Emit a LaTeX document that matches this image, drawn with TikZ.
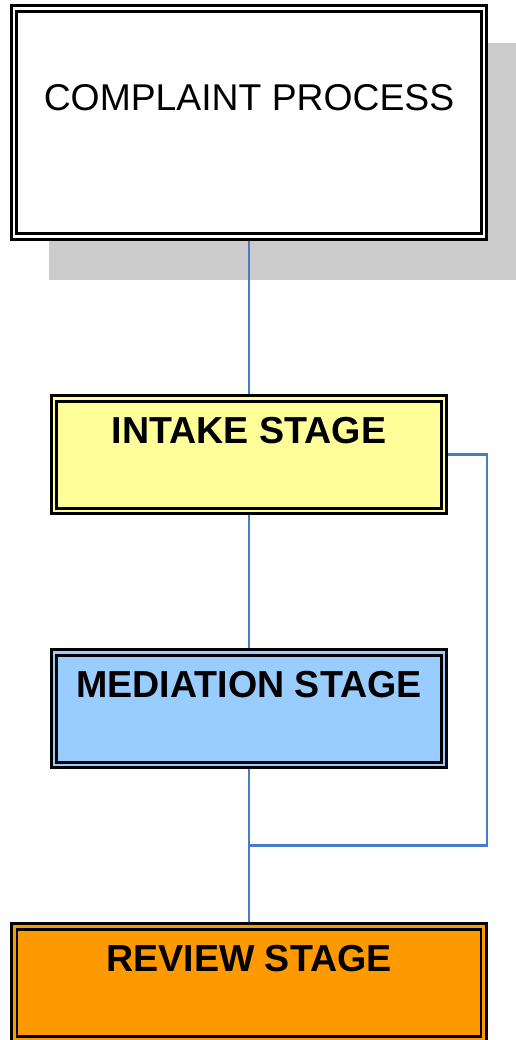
\documentclass[tikz,border=0pt]{standalone}
\usepackage{fontspec}
\setmainfont{Liberation Sans}
\usetikzlibrary{positioning,calc,backgrounds}

\definecolor{intakeyellow}{HTML}{FFFF99}
\definecolor{mediationblue}{HTML}{99CCFF}
\definecolor{revieworange}{HTML}{FF9900}
\definecolor{shadowgray}{HTML}{CCCCCC}
\definecolor{linkblue}{HTML}{4A7BC8}

\begin{document}
\begin{tikzpicture}[
        x=1pt, y=1pt,
        stage/.style={draw, double, line width=2.8pt, double distance=2.8pt, outer sep=0pt, inner sep=0pt,
          align=center, text height=26pt, text depth=49pt, minimum height=112.5pt,
          font=\fontsize{37.6}{44}\selectfont\bfseries},
        link/.style={draw=linkblue, line width=2.6pt}
      ]
      \useasboundingbox (0,0) rectangle (515,-1040);

      \node (CP) [stage, fill=white, double=white, minimum width=470pt, minimum height=228pt,
        font=\fontsize{37.3}{44}\selectfont] at (249,-122.5) {COMPLAINT PROCESS};
      \node (IS) [stage, node distance=162pt, below=of CP, fill=intakeyellow, double=intakeyellow, minimum width=390pt] {INTAKE STAGE};
      \node (MS) [stage, node distance=141.5pt, below=of IS, fill=mediationblue, double=mediationblue, minimum width=390pt] {MEDIATION STAGE};
      \node (RS) [stage, node distance=161.5pt, below=of MS, fill=revieworange, double=revieworange, minimum width=469.5pt] {REVIEW STAGE};
      \coordinate (merge) at ($(MS.south)!0.5!(RS.north)$);

      \begin{scope}[on background layer]
        \fill[shadowgray] ($(CP.north west)+(35,-35)$) rectangle ($(CP.south east)+(43,-44)$);
        \path[link] (CP) -- (IS);
        \path[link] (IS) -- (MS);
        \path[link] (MS) -- (RS);
        \path[link] (IS.east) -- ++(43,0) |- (merge);
      \end{scope}

    \end{tikzpicture}
\end{document}
